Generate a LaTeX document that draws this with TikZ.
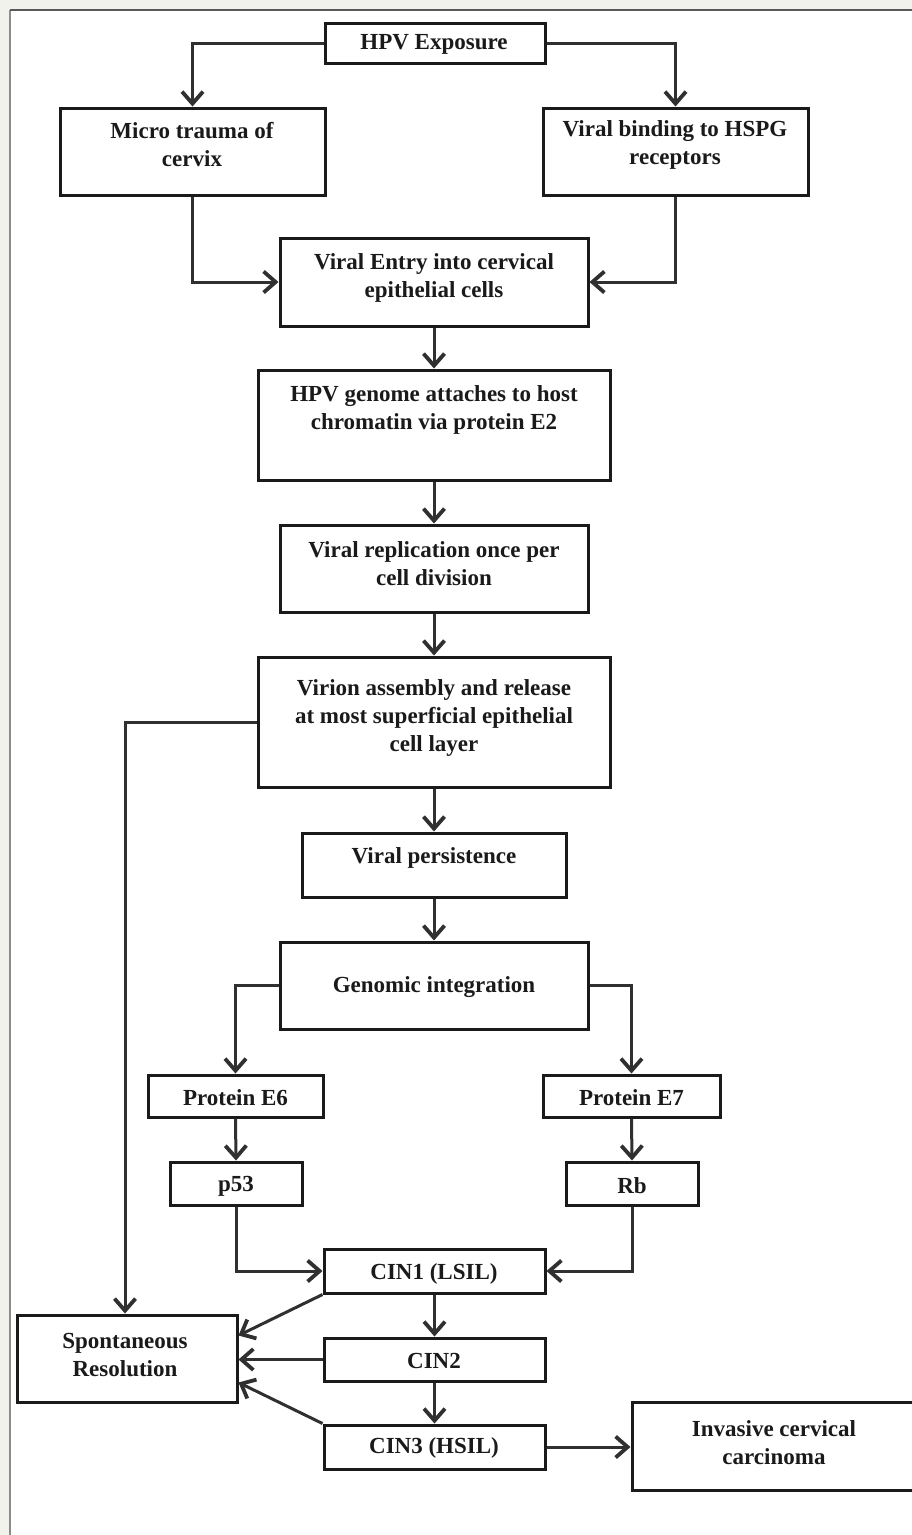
\documentclass[tikz,border=0pt]{standalone}
\usepackage{fontspec}
\setmainfont{Liberation Serif}
\usetikzlibrary{arrows.meta,calc}
\definecolor{bgframe}{HTML}{F2F2EC}
\definecolor{ink}{HTML}{1A1A1A}
\definecolor{wire}{HTML}{303030}
\begin{document}
\begin{tikzpicture}[x=1pt,y=-1pt,
  box/.style={draw=ink, line width=3pt, fill=white, inner sep=0pt},
  txt/.style={font=\fontsize{23}{28}\selectfont\bfseries, text=ink, align=center, inner sep=0pt},
  arr/.style={draw=wire, line width=3pt, -{Straight Barb[length=12pt,width=21pt,line width=3.8pt]}}]
\useasboundingbox (0,0) rectangle (912,1535);
\clip (0,0) rectangle (912,1535);
% frame
\fill[bgframe] (0,0) rectangle (912,1535);
\fill[white] (10,10) rectangle (912,1535);
\draw[line width=2pt, color=black!45] (10,1535) -- (10,10);
\draw[line width=2pt, color=black!65] (10,10) -- (912,10);

% boxes
\node[box, minimum width=220pt, minimum height=40pt] (hpv) at (435,43) {};
\node[box, minimum width=265pt, minimum height=87pt] (micro) at (192.5,151.5) {};
\node[box, minimum width=265pt, minimum height=87pt] (bind) at (675.5,151.5) {};
\node[box, minimum width=308pt, minimum height=88pt] (entry) at (434,282) {};
\node[box, minimum width=352pt, minimum height=110pt] (genome) at (434,425) {};
\node[box, minimum width=308pt, minimum height=87pt] (repl) at (434,568.5) {};
\node[box, minimum width=352pt, minimum height=130pt] (virion) at (434,722) {};
\node[box, minimum width=264pt, minimum height=64pt] (pers) at (434,865) {};
\node[box, minimum width=308pt, minimum height=87pt] (gen) at (434,985.5) {};
\node[box, minimum width=175pt, minimum height=42pt] (e6) at (235.5,1096) {};
\node[box, minimum width=177pt, minimum height=42pt] (e7) at (631.5,1096) {};
\node[box, minimum width=132pt, minimum height=43pt] (p53) at (236,1183.5) {};
\node[box, minimum width=132pt, minimum height=43pt] (rb) at (632,1183.5) {};
\node[box, minimum width=221pt, minimum height=44pt] (cin1) at (434.5,1271) {};
\node[box, minimum width=220pt, minimum height=87pt] (spont) at (127,1358.5) {};
\node[box, minimum width=221pt, minimum height=43pt] (cin2) at (434.5,1359.5) {};
\node[box, minimum width=221pt, minimum height=44pt] (cin3) at (434.5,1447) {};
\node[box, minimum width=284pt, minimum height=88pt] (inv) at (774,1446) {};

% texts
\node[txt] (thpv) at (434,44) {HPV Exposure};
\node[txt] (tmicro) at (192,145) {Micro trauma of\\cervix};
\node[txt] (tbind) at (675,145) {Viral binding to HSPG\\receptors};
\node[txt] (tentry) at (434,278) {Viral Entry into cervical\\epithelial cells};
\node[txt] (tgenome) at (434,410) {HPV genome attaches to host\\chromatin via protein E2};
\node[txt] (trepl) at (434,564) {Viral replication once per\\cell division};
\node[txt] (tvirion) at (434,718) {Virion assembly and release\\at most superficial epithelial\\cell layer};
\node[txt] (tpers) at (434,858) {Viral persistence};
\node[txt] (tgen) at (434,987) {Genomic integration};
\node[txt] (te6) at (235.5,1098) {Protein E6};
\node[txt] (te7) at (631.5,1098) {Protein E7};
\node[txt] (tp53) at (236,1186) {p53};
\node[txt] (trb) at (632,1186) {Rb};
\node[txt] (tcin1) at (434,1274) {CIN1 (LSIL)};
\node[txt] (tspont) at (125,1355) {Spontaneous\\Resolution};
\node[txt] (tcin2) at (434,1361) {CIN2};
\node[txt] (tcin3) at (434,1448) {CIN3 (HSIL)};
\node[txt] (tinv) at (774,1443) {Invasive cervical\\carcinoma};

% connectors
\draw[arr] (hpv.west) -| (micro.north);
\draw[arr] (hpv.east) -| (bind.north);
\draw[arr] (micro.south) |- (entry.west);
\draw[arr] (bind.south) |- (entry.east);
\draw[arr] (entry.south) -- (genome.north);
\draw[arr] (genome.south) -- (repl.north);
\draw[arr] (repl.south) -- (virion.north);
\draw[arr] (virion.south) -- (pers.north);
\draw[arr] (pers.south) -- (gen.north);
\draw[arr] (virion.west) -| ([xshift=-2pt]spont.north);
\draw[arr] (gen.west) -| (e6.north);
\draw[arr] (gen.east) -| (e7.north);
\draw[arr] (e6.south) -- (p53.north);
\draw[arr] (e7.south) -- (rb.north);
\draw[arr] (p53.south) |- (cin1.west);
\draw[arr] (rb.south) |- (cin1.east);
\draw[arr] (cin1.south) -- (cin2.north);
\draw[arr] (cin2.south) -- (cin3.north);
\draw[arr] (cin1.south west) -- ([yshift=23pt]spont.east);
\draw[arr] (cin2.west) -- (spont.east |- cin2.west);
\draw[arr] (cin3.north west) -- ([yshift=-24pt]spont.east);
\draw[arr] (cin3.east) -- (inv.west |- cin3.east);
\end{tikzpicture}
\end{document}
